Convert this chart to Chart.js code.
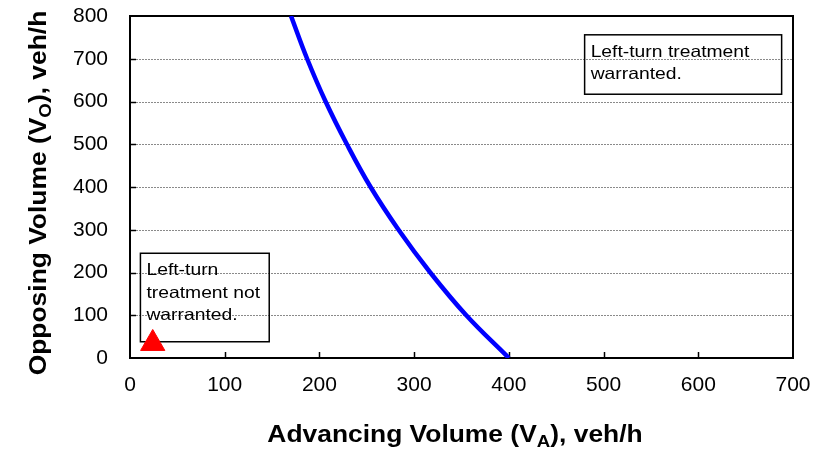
<!DOCTYPE html>
<html><head><meta charset="utf-8">
<script src="https://cdn.jsdelivr.net/npm/chart.js@4.4.0/dist/chart.umd.min.js"></script>
<style>html,body{margin:0;padding:0;background:#fff;}#wrap{width:828px;height:452px;}</style>
</head><body><div id="wrap"><canvas id="c" width="828" height="452"></canvas></div>
<script>
// ---- data ----
const advancingVolume = [170, 187, 206.5, 229, 254, 283.5, 317, 355, 400];
const opposingVolume  = [800, 700, 600, 500, 400, 300, 200, 100, 0];
const observedVA = [24];
const observedVO = [34];
const xTickValues = [0, 100, 200, 300, 400, 500, 600, 700];
const yTickValues = [0, 100, 200, 300, 400, 500, 600, 700, 800];
const noteWarranted = ['Left-turn treatment', 'warranted.'];
const noteNotWarranted = ['Left-turn', 'treatment not', 'warranted.'];
const xTitleParts = ['Advancing Volume (V', 'A', '), veh/h'];
const yTitleParts = ['Opposing Volume (V', 'O', '), veh/h'];

const FONT = '"Liberation Sans", Arial, sans-serif';

function drawStretched(ctx, x, y, text, sx) {
  ctx.save(); ctx.translate(x, y); ctx.scale(sx, 1); ctx.fillText(text, 0, 0); ctx.restore();
}
function titleWidth(ctx, parts, size, subSize, sx) {
  ctx.font = 'bold ' + size + 'px ' + FONT; let w = ctx.measureText(parts[0]).width + ctx.measureText(parts[2]).width;
  ctx.font = 'bold ' + subSize + 'px ' + FONT; w += ctx.measureText(parts[1]).width;
  return w * sx;
}
function drawTitle(ctx, parts, cx, baseY, size, subSize, sx) {
  const w = titleWidth(ctx, parts, size, subSize, sx);
  let x = cx - w / 2;
  ctx.textAlign = 'left'; ctx.textBaseline = 'alphabetic'; ctx.fillStyle = '#000';
  ctx.font = 'bold ' + size + 'px ' + FONT;
  drawStretched(ctx, x, baseY, parts[0], sx); x += ctx.measureText(parts[0]).width * sx;
  ctx.font = 'bold ' + subSize + 'px ' + FONT;
  drawStretched(ctx, x, baseY + 5, parts[1], sx); x += ctx.measureText(parts[1]).width * sx;
  ctx.font = 'bold ' + size + 'px ' + FONT;
  drawStretched(ctx, x, baseY, parts[2], sx);
}

const framePlugin = {
  id: 'frame',
  beforeDatasetsDraw(chart) {
    const {ctx, chartArea: a, scales: {x, y}} = chart;
    ctx.save();
    // dotted horizontal gridlines
    ctx.strokeStyle = '#8a8a8a'; ctx.lineWidth = 1; ctx.setLineDash([2, 1]);
    yTickValues.forEach(v => {
      if (v === y.min || v === y.max) return;
      const py = Math.round(y.getPixelForValue(v)) + 0.5;
      ctx.beginPath(); ctx.moveTo(a.left, py); ctx.lineTo(a.right, py); ctx.stroke();
    });
    ctx.setLineDash([]);
    // inward tick marks
    ctx.strokeStyle = '#000'; ctx.lineWidth = 1.5;
    xTickValues.forEach(v => {
      if (v === x.min || v === x.max) return;
      const px = Math.round(x.getPixelForValue(v)) + 0.5;
      ctx.beginPath(); ctx.moveTo(px, a.bottom); ctx.lineTo(px, a.bottom - 6); ctx.stroke();
    });
    yTickValues.forEach(v => {
      if (v === y.min || v === y.max) return;
      const py = Math.round(y.getPixelForValue(v)) + 0.5;
      ctx.beginPath(); ctx.moveTo(a.left, py); ctx.lineTo(a.left + 6, py); ctx.stroke();
    });
    // plot frame
    ctx.lineWidth = 2; ctx.strokeStyle = '#000';
    ctx.strokeRect(a.left, a.top, a.right - a.left, a.bottom - a.top);
    // annotation boxes (transparent)
    const boxes = [
      {x0: 480, x1: 688, y0: 756, y1: 617, lines: noteWarranted},
      {x0: 11, x1: 147, y0: 245, y1: 38, lines: noteNotWarranted}
    ];
    ctx.lineWidth = 1.5;
    boxes.forEach(b => {
      const l = x.getPixelForValue(b.x0), r = x.getPixelForValue(b.x1);
      const t = y.getPixelForValue(b.y0), btm = y.getPixelForValue(b.y1);
      ctx.strokeRect(l, t, r - l, btm - t);
      ctx.fillStyle = '#000'; ctx.font = '16.5px ' + FONT; ctx.textAlign = 'left'; ctx.textBaseline = 'alphabetic';
      b.lines.forEach((s, i) => drawStretched(ctx, l + 6, t + 22 + i * 22.5, s, 1.17));
    });
    ctx.restore();
  },
  afterDraw(chart) {
    const {ctx} = chart;
    ctx.save();
    drawTitle(ctx, xTitleParts, 455, 442, 24, 17, 1.1);
    ctx.translate(46, 193); ctx.rotate(-Math.PI / 2);
    drawTitle(ctx, yTitleParts, 0, 0, 24, 17, 1.1);
    ctx.restore();
  }
};

new Chart(document.getElementById('c'), {
  type: 'scatter',
  data: {
    datasets: [
      {
        data: advancingVolume.map((v, i) => ({x: v, y: opposingVolume[i]})),
        showLine: true, borderColor: '#0000FF', borderWidth: 4.5, pointRadius: 0,
        tension: 0.4, fill: false
      },
      {
        data: observedVA.map((v, i) => ({x: v, y: observedVO[i]})),
        pointStyle: 'triangle', pointRadius: 14, backgroundColor: '#FF0000', borderColor: '#FF0000', borderWidth: 1
      }
    ]
  },
  options: {
    responsive: false, animation: false, devicePixelRatio: 1,
    layout: {padding: {top: 16, right: 35, left: 0, bottom: 0}},
    plugins: {legend: {display: false}, tooltip: {enabled: false}},
    scales: {
      x: {
        type: 'linear', min: 0, max: 700,
        afterBuildTicks: s => { s.ticks = xTickValues.map(v => ({value: v})); },
        grid: {display: false, drawTicks: false}, border: {display: false},
        ticks: {color: '#000', font: {family: FONT, size: 21}, padding: 15, maxRotation: 0},
        afterFit: s => { s.height = 94; s.paddingLeft = 0; s.paddingRight = 0; }
      },
      y: {
        type: 'linear', min: 0, max: 800,
        afterBuildTicks: s => { s.ticks = yTickValues.map(v => ({value: v})); },
        grid: {display: false, drawTicks: false}, border: {display: false},
        ticks: {color: '#000', font: {family: FONT, size: 21}, padding: 22},
        afterFit: s => { s.width = 130; s.paddingTop = 0; s.paddingBottom = 0; }
      }
    }
  },
  plugins: [framePlugin]
});
</script></body></html>
